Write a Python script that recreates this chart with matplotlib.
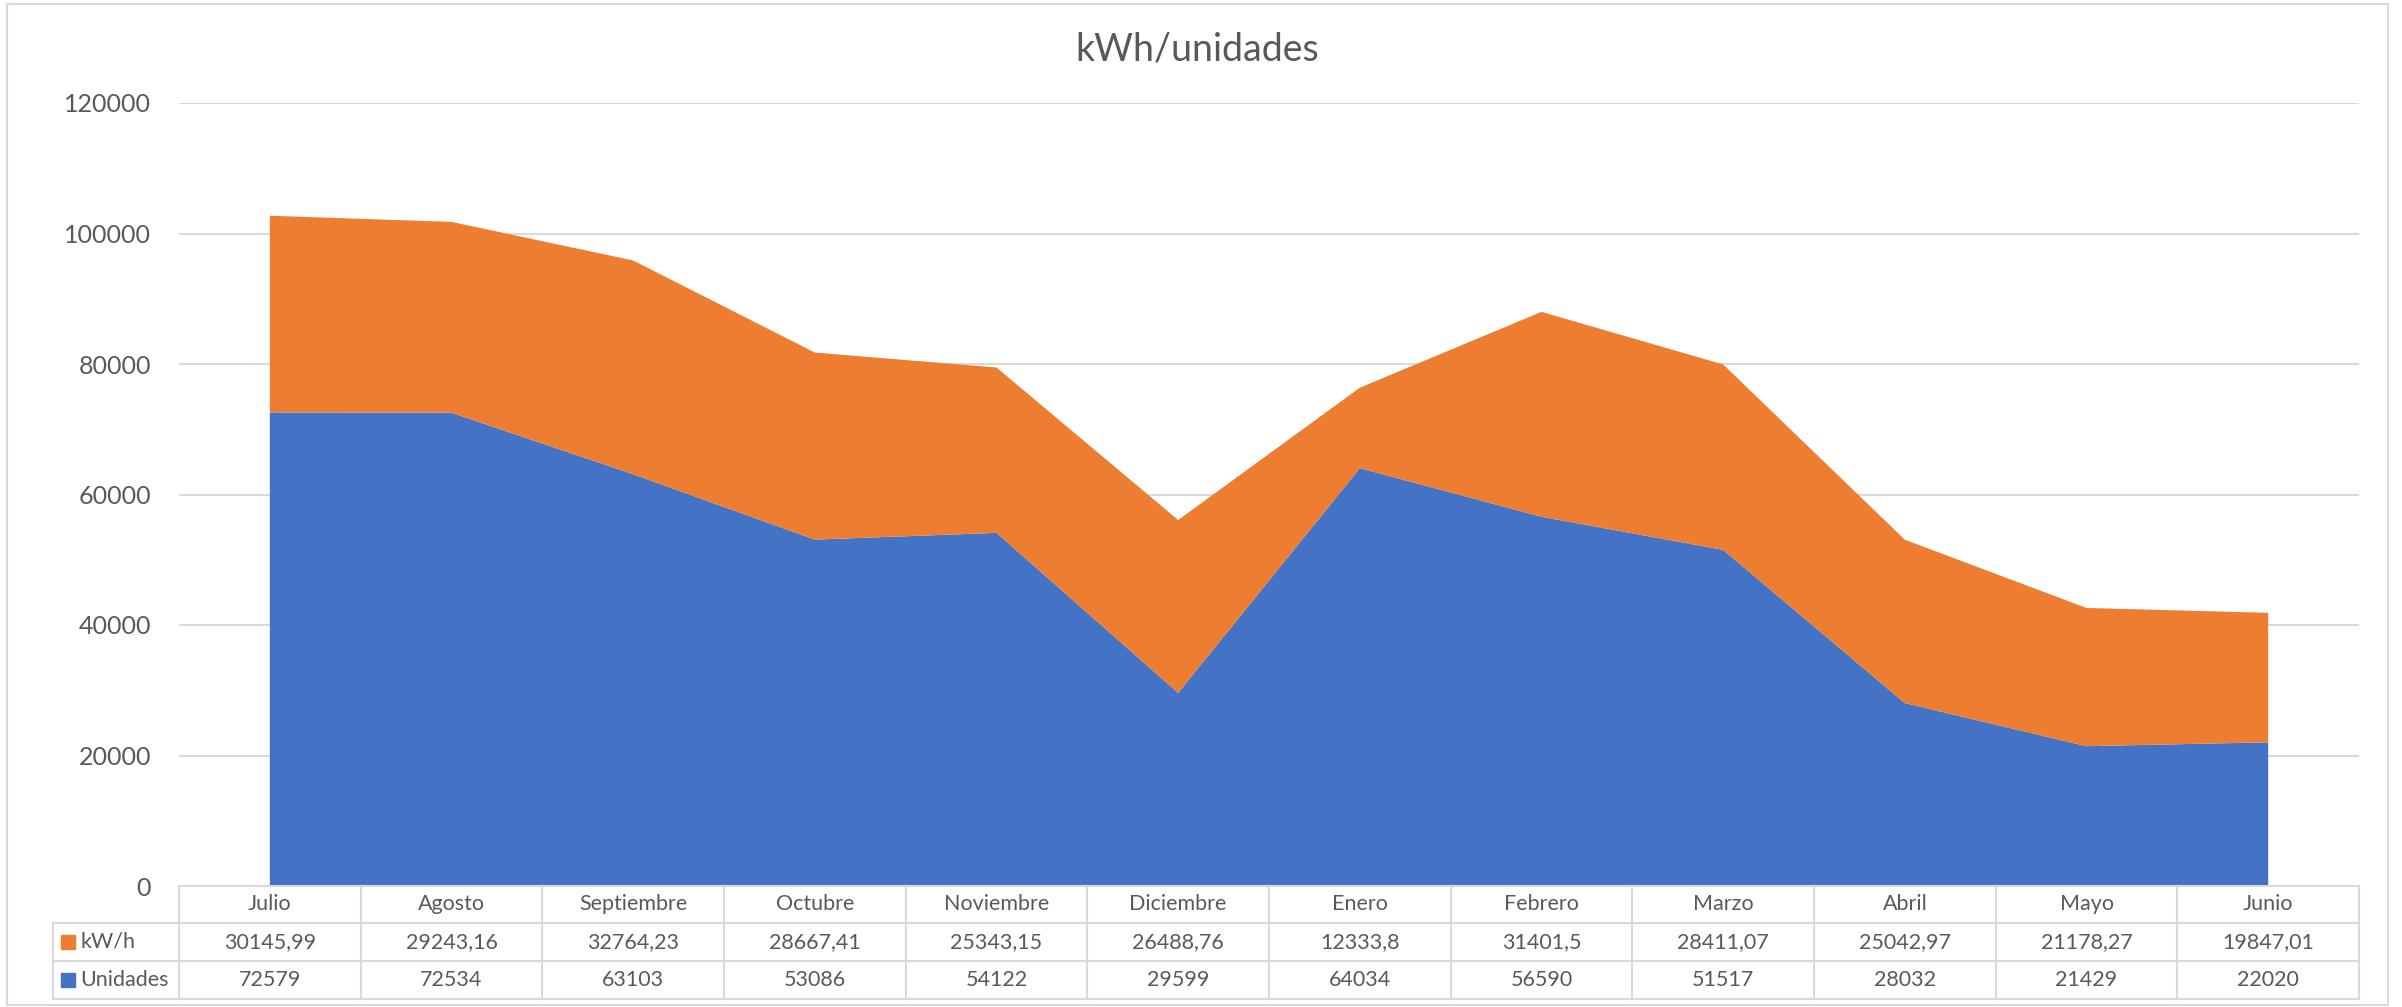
import matplotlib.pyplot as plt
from matplotlib.transforms import blended_transform_factory
from matplotlib.patches import Rectangle

meses = ['Julio', 'Agosto', 'Septiembre', 'Octubre', 'Noviembre', 'Diciembre',
         'Enero', 'Febrero', 'Marzo', 'Abril', 'Mayo', 'Junio']
kwh = [30145.99, 29243.16, 32764.23, 28667.41, 25343.15, 26488.76,
       12333.8, 31401.5, 28411.07, 25042.97, 21178.27, 19847.01]
unidades = [72579, 72534, 63103, 53086, 54122, 29599,
            64034, 56590, 51517, 28032, 21429, 22020]
yticks = [0, 20000, 40000, 60000, 80000, 100000, 120000]

naranja = '#ED7D31'
azul = '#4472C4'
gris_txt = '#595959'
gris_lin = '#D9D9D9'

plt.rcParams['font.family'] = ['Lato', 'DejaVu Sans']

W, H = 2402, 1007
fig = plt.figure(figsize=(W / 100, H / 100), dpi=100)
# plot area in pixels: x 179..2359, y 103..886
ax = fig.add_axes([179 / W, 1 - 886 / H, 2180 / W, 783 / H])

x = list(range(len(meses)))
ax.stackplot(x, unidades, kwh, colors=[azul, naranja], linewidth=0, zorder=2)

ax.set_xlim(-0.5, len(meses) - 0.5)
ax.set_ylim(0, 120000)
ax.set_yticks(yticks)
ax.set_yticklabels([str(v) for v in yticks], fontsize=18, color=gris_txt)
ax.tick_params(axis='y', length=0, pad=20)
ax.set_xticks([])
for y in yticks[1:]:
    ax.axhline(y, color=gris_lin, lw=1.5, zorder=1)
for s in ax.spines.values():
    s.set_visible(False)

fig.text(0.4985, 1 - 49 / H, 'kWh/unidades', ha='center', va='center',
         fontsize=27, color=gris_txt)

# data table below the plot
tr = blended_transform_factory(ax.transData, ax.transAxes)
colw = 2180 / 12
def px2x(px):
    return -0.5 + (px - 179) / colw
def py2y(py):
    return -(py - 886) / 783

n = len(meses)
left_lbl = px2x(53)
lkw = dict(color=gris_lin, lw=1.5, transform=tr, clip_on=False, zorder=5)
ax.plot([-0.5, n - 0.5], [0, 0], **lkw)
for py in [923, 961, 999]:
    ax.plot([left_lbl, n - 0.5], [py2y(py)] * 2, **lkw)
for i in range(n + 1):
    ax.plot([i - 0.5] * 2, [0, py2y(999)], **lkw)
ax.plot([left_lbl] * 2, [py2y(923), py2y(999)], **lkw)

tkw = dict(transform=tr, ha='center', va='center', fontsize=15.5,
           color=gris_txt, clip_on=False)
for i, m in enumerate(meses):
    ax.text(i, py2y(904.5), m, **tkw)
    ax.text(i, py2y(942), str(kwh[i]).replace('.', ','), **tkw)
    ax.text(i, py2y(980), str(unidades[i]), **tkw)

for nombre, color, py in [('kW/h', naranja, 942), ('Unidades', azul, 980)]:
    ax.plot([px2x(68)], [py2y(py)], marker='s', ms=10, color=color,
            transform=tr, clip_on=False, linestyle='none')
    ax.text(px2x(80), py2y(py), nombre, transform=tr, ha='left', va='center',
            fontsize=15.5, color=gris_txt, clip_on=False)

# chart border
fig.patches.append(Rectangle((7 / W, 2 / H), 2381 / W, 1001 / H,
                             transform=fig.transFigure, fill=False,
                             edgecolor=gris_lin, lw=1.5))

fig.savefig('out.png', dpi=100)
